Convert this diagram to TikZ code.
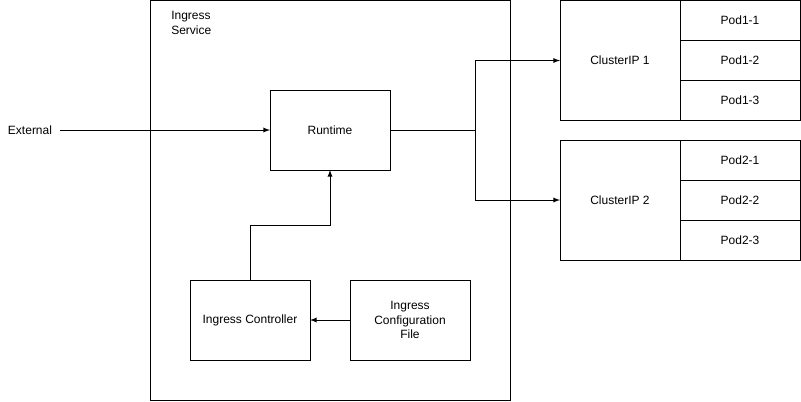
\documentclass[tikz,border=0pt]{standalone}
\usepackage{fontspec}
\setmainfont{Liberation Sans}
\usetikzlibrary{positioning,arrows}

\begin{document}
\begin{tikzpicture}[
x=0.75pt,y=-0.75pt,
every node/.style={font=\fontsize{9}{11}\selectfont},
box/.style={
  draw,
  line width=0.75pt,
  inner sep=0pt,
  outer sep=0pt,
  align=center,
  minimum width=90pt,
  minimum height=60pt
},
pod/.style={
  box,
  minimum height=30pt
},
conn/.style={
  line width=0.75pt,
  -latex
},
node distance=0pt
]
\useasboundingbox (0,0) rectangle (801,401);

\node[box, minimum width=270pt, minimum height=300pt] (svc) at (330,200.5) {};
\node[anchor=north west, align=left, inner sep=0pt] (svclabel) at (171,11)
  {Ingress\\Service};

\node[box] (rt) at (330,130) {Runtime};
\node[box] (ctl) at (250,320) {Ingress Controller};
\node[box] (cfg) at (410,320) {Ingress\\Configuration\\File};
\node[outer sep=3pt] (ext) at (30,130) {External};

% ClusterIP 1 and its pods
\node[box, minimum height=90pt] (cip1) at (620,60.5) {ClusterIP 1};
\node[pod, anchor=north west] (p11) at (cip1.north east) {Pod1-1};
\node[pod, below=of p11] (p12) {Pod1-2};
\node[pod, below=of p12] (p13) {Pod1-3};

% ClusterIP 2 and its pods
\node[box, minimum height=90pt] (cip2) at (620,200) {ClusterIP 2};
\node[pod, anchor=north west] (p21) at (cip2.north east) {Pod2-1};
\node[pod, below=of p21] (p22) {Pod2-2};
\node[pod, below=of p22] (p23) {Pod2-3};

\coordinate (split) at (475,130);
\coordinate (up) at (330,225);

\draw[conn] (ext) -- (rt);
\draw[line width=0.75pt] (rt) -- (split);
\draw[conn] (split) |- (cip1);
\draw[conn] (split) |- (cip2);
\draw[conn] (ctl.north) |- (up) -- (rt.south);
\draw[conn] (cfg) -- (ctl);
\end{tikzpicture}
\end{document}
